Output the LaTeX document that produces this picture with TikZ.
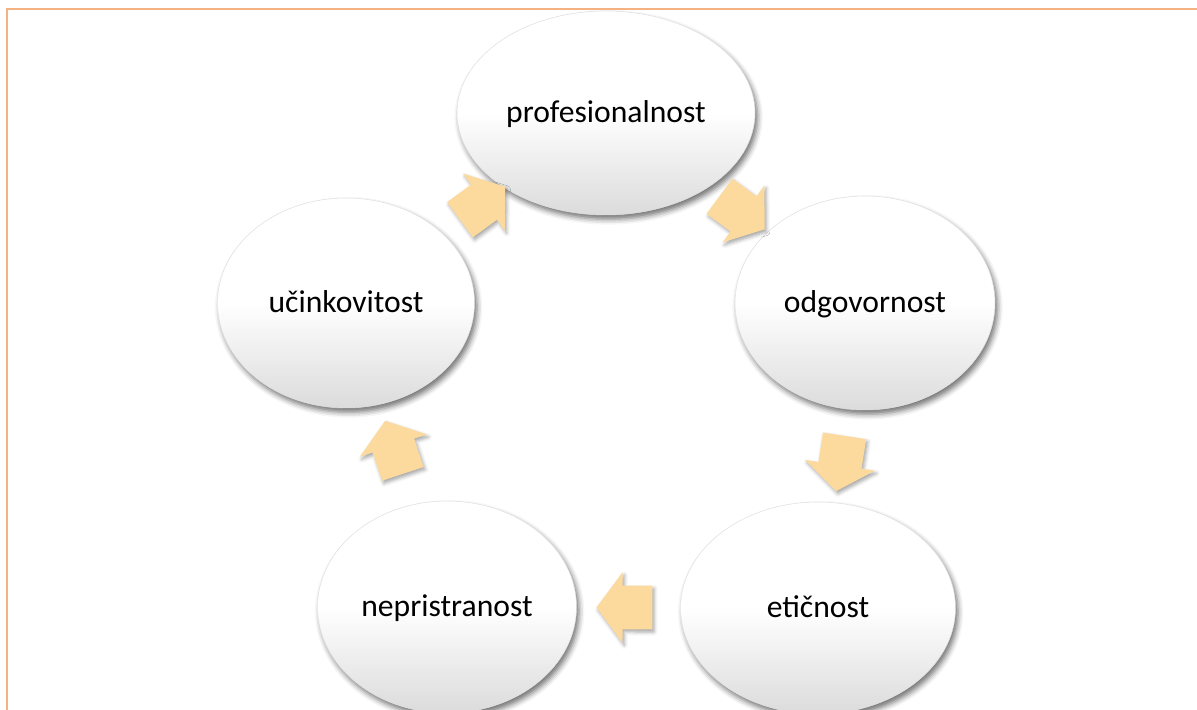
\documentclass[tikz,border=0pt]{standalone}
\usepackage{fontspec}
\setmainfont{Carlito}
\usetikzlibrary{shapes.geometric,shapes.arrows,shadows.blur}
\definecolor{frameorange}{HTML}{F4B183}
\definecolor{arrowfill}{HTML}{FCDA9E}

\begin{document}
\begin{tikzpicture}[x=0.02cm, y=-0.02cm,
    value/.style = {ellipse, inner sep=0pt, draw=black!12, line width=0.3pt,
      top color=white, bottom color=black!14, middle color=white,
      blur shadow={shadow xshift=1.5pt, shadow yshift=-2.5pt, shadow blur radius=3pt, shadow opacity=55},
      text height=11pt, text depth=0pt, font=\fontsize{18}{22}\selectfont},
    flow/.style = {single arrow, sloped, allow upside down, fill=arrowfill,
      inner xsep=0pt, inner ysep=0.43cm, minimum height=1.12cm,
      single arrow head extend=0.27cm, single arrow tip angle=107,
      blur shadow={shadow xshift=1pt, shadow yshift=-1.5pt, shadow blur radius=2pt, shadow opacity=35}}]
    \useasboundingbox (0,0) rectangle (1197,710);
    \clip (0,0) rectangle (1197,710);
    \draw[frameorange, line width=1.1pt] (7,9) rectangle (1240,760);

    \node[value, minimum width=5.96cm, minimum height=4.08cm] (prof) at (606,113) {profesionalnost};
    \node[value, minimum width=5.2cm, minimum height=4.28cm] (odg) at (865,303) {odgovornost};
    \node[value, minimum width=5.5cm, minimum height=4.24cm] (etic) at (818,608) {etičnost};
    \node[value, minimum width=5.18cm, minimum height=4.24cm] (nepr) at (447,607) {nepristranost};
    \node[value, minimum width=5.14cm, minimum height=4.2cm] (ucin) at (346,303) {učinkovitost};

    \path (ucin.center) -- node[flow] {} (prof.center);
    \path (prof.center) -- node[flow] {} (odg.center);
    \path (odg.center) -- node[flow] {} (etic.center);
    \path (etic.center) -- node[flow] {} (nepr.center);
    \path (nepr.center) -- node[flow] {} (ucin.center);
  \end{tikzpicture}
\end{document}
